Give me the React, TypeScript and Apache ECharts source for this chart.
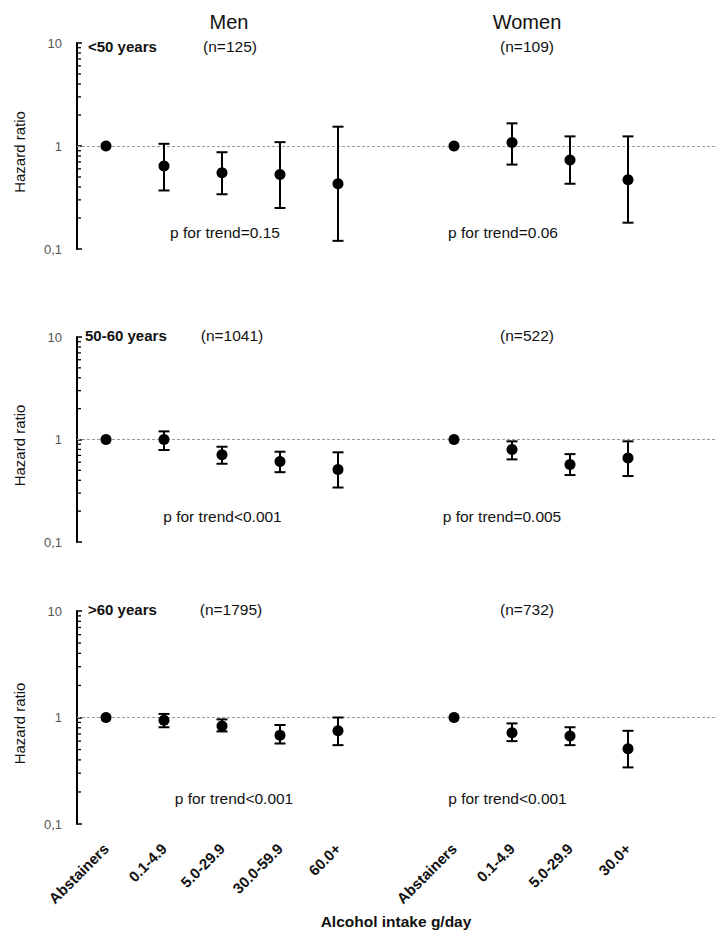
import React, { useEffect, useRef } from "react";
import * as echarts from "echarts";

// ---- categories / ticks ----
const menCategories = ["Abstainers", "0.1-4.9", "5.0-29.9", "30.0-59.9", "60.0+"];
const womenCategories = ["Abstainers", "0.1-4.9", "5.0-29.9", "30.0+"];
const categories = [...menCategories, "", ...womenCategories, ""];
const womenOffset = menCategories.length + 1;
const minorTickValues = [0.2, 0.3, 0.4, 0.5, 0.6, 0.7, 0.8, 0.9, 2, 3, 4, 5, 6, 7, 8, 9];

// ---- <50 years ----
const menU50HR = [1, 0.64, 0.55, 0.53, 0.43];
const menU50Lo = [null, 0.37, 0.34, 0.25, 0.12];
const menU50Hi = [null, 1.05, 0.87, 1.09, 1.54];
const womenU50HR = [1, 1.08, 0.73, 0.47];
const womenU50Lo = [null, 0.66, 0.43, 0.18];
const womenU50Hi = [null, 1.66, 1.24, 1.24];

// ---- 50-60 years ----
const men5060HR = [1, 1.0, 0.71, 0.61, 0.51];
const men5060Lo = [null, 0.79, 0.58, 0.48, 0.34];
const men5060Hi = [null, 1.2, 0.85, 0.76, 0.75];
const women5060HR = [1, 0.8, 0.57, 0.66];
const women5060Lo = [null, 0.64, 0.45, 0.44];
const women5060Hi = [null, 0.96, 0.72, 0.96];

// ---- >60 years ----
const menO60HR = [1, 0.94, 0.83, 0.68, 0.75];
const menO60Lo = [null, 0.81, 0.74, 0.57, 0.55];
const menO60Hi = [null, 1.08, 0.96, 0.85, 1.0];
const womenO60HR = [1, 0.72, 0.67, 0.51];
const womenO60Lo = [null, 0.6, 0.55, 0.34];
const womenO60Hi = [null, 0.88, 0.81, 0.75];

const panelLabels = ["<50 years", "50-60 years", ">60 years"];
const menN = ["(n=125)", "(n=1041)", "(n=1795)"];
const womenN = ["(n=109)", "(n=522)", "(n=732)"];
const menP = ["p for trend=0.15", "p for trend<0.001", "p for trend<0.001"];
const womenP = ["p for trend=0.06", "p for trend=0.005", "p for trend<0.001"];

const FONT = "'Liberation Sans', Arial, sans-serif";

const panels = [
  { men: [menU50HR, menU50Lo, menU50Hi], women: [womenU50HR, womenU50Lo, womenU50Hi] },
  { men: [men5060HR, men5060Lo, men5060Hi], women: [women5060HR, women5060Lo, women5060Hi] },
  { men: [menO60HR, menO60Lo, menO60Hi], women: [womenO60HR, womenO60Lo, womenO60Hi] },
];

const gridTops = [43, 337, 611];
const gridHeights = [206, 205, 213];
const GRID_LEFT = 77;
const SLOT = 58;

function errorBarRender(params: any, api: any) {
  const x = api.value(0);
  const lo = api.coord([x, api.value(1)]);
  const hi = api.coord([x, api.value(2)]);
  const w = 5.5;
  const style = { stroke: "#000", lineWidth: 2 };
  return {
    type: "group",
    children: [
      { type: "line", shape: { x1: lo[0], y1: lo[1], x2: hi[0], y2: hi[1] }, style },
      { type: "line", shape: { x1: lo[0] - w, y1: lo[1], x2: lo[0] + w, y2: lo[1] }, style },
      { type: "line", shape: { x1: hi[0] - w, y1: hi[1], x2: hi[0] + w, y2: hi[1] }, style },
    ],
  };
}

function minorTickRender(params: any, api: any) {
  const p = api.coord([api.value(0), api.value(1)]);
  const half = api.size([1, 0])[0] / 2;
  const x0 = p[0] - half;
  return {
    type: "group",
    children: [
      {
        type: "line",
        shape: { x1: x0, y1: p[1], x2: x0 + 4, y2: p[1] },
        style: { stroke: "#000", lineWidth: 1.3 },
      },
    ],
  };
}

function txt(text: string, x: number, y: number, size: number, align: string, weight = "normal", fill = "#111") {
  return {
    type: "text",
    x,
    y,
    style: {
      text,
      fontSize: size,
      fontWeight: weight,
      fontFamily: FONT,
      fill,
      textAlign: align,
      textVerticalAlign: "middle",
      align,
      verticalAlign: "middle",
    },
  };
}

export default function App() {
  const ref = useRef<HTMLDivElement>(null);
  useEffect(() => {
    if (!ref.current) return;
    const chart = echarts.init(ref.current, null, { renderer: "svg" });

    const grids: any[] = [];
    const xAxes: any[] = [];
    const yAxes: any[] = [];
    const series: any[] = [];

    panels.forEach((panel, p) => {
      grids.push({ left: GRID_LEFT, top: gridTops[p], width: SLOT * categories.length, height: gridHeights[p] });
      const last = p === panels.length - 1;
      xAxes.push({
        type: "category",
        gridIndex: p,
        data: categories,
        boundaryGap: true,
        axisLine: { show: false },
        axisTick: { show: false },
        splitLine: { show: false },
        axisLabel: last
          ? { show: true, interval: 0, rotate: 45, margin: 22, fontSize: 15, fontWeight: "bold", color: "#111", fontFamily: FONT }
          : { show: false },
        name: last ? "Alcohol intake g/day" : "",
        nameLocation: "middle",
        nameGap: 89,
        nameTextStyle: { fontSize: 15.5, fontWeight: "bold", color: "#111", fontFamily: FONT },
      });
      yAxes.push({
        type: "log",
        logBase: 10,
        gridIndex: p,
        min: 0.1,
        max: 10,
        name: "Hazard ratio",
        nameLocation: "middle",
        nameGap: 50,
        nameTextStyle: { fontSize: 15, color: "#111", fontFamily: FONT, padding: [0, 12, 0, 0] },
        axisLine: { show: true, lineStyle: { color: "#000", width: 2 } },
        axisTick: { show: true, inside: true, length: 5, lineStyle: { color: "#000", width: 1.5 } },
        splitLine: { show: false },
        axisLabel: {
          margin: 15,
          fontSize: 13,
          color: "#555",
          fontFamily: FONT,
          formatter: (v: number) => (v < 0.5 ? "0,1" : String(Math.round(v))),
        },
      });

      // minor log ticks
      series.push({
        type: "custom",
        xAxisIndex: p,
        yAxisIndex: p,
        data: minorTickValues.map((v) => [0, v]),
        renderItem: minorTickRender,
        encode: { x: 0, y: 1 },
        silent: true,
        clip: false,
        z: 5,
      });

      const groups = [
        { d: panel.men, off: 0 },
        { d: panel.women, off: womenOffset },
      ];
      groups.forEach((g, gi) => {
        const [hr, lo, hi] = g.d as any[];
        series.push({
          type: "custom",
          xAxisIndex: p,
          yAxisIndex: p,
          data: hr
            .map((_: number, i: number) => (lo[i] == null ? null : [i + g.off, lo[i], hi[i]]))
            .filter((d: any) => d),
          renderItem: errorBarRender,
          encode: { x: 0, y: [1, 2] },
          silent: true,
          z: 3,
        });
        const sc: any = {
          type: "scatter",
          xAxisIndex: p,
          yAxisIndex: p,
          symbol: "circle",
          symbolSize: 11,
          itemStyle: { color: "#000", opacity: 1 },
          data: hr.map((v: number, i: number) => [i + g.off, v]),
          silent: true,
          z: 4,
        };
        if (gi === 0) {
          sc.markLine = {
            silent: true,
            symbol: ["none", "none"],
            label: { show: false },
            lineStyle: { type: [3, 2], color: "#999", width: 1 },
            data: [{ yAxis: 1 }],
            z: 1,
          };
        }
        series.push(sc);
      });
    });

    const graphics: any[] = [
      txt("Men", 229, 22, 20, "center"),
      txt("Women", 527, 22, 20, "center"),
    ];
    const labelY = [46.5, 335.5, 609.5];
    const labelX = [88, 85, 88];
    const menNX = [230, 232, 231];
    const pY = [232, 516, 798];
    const menPX = [225, 222.5, 234];
    const womenPX = [503, 502, 507.5];
    panelLabels.forEach((lab, p) => {
      graphics.push(txt(lab, labelX[p], labelY[p], 15, "left", "bold"));
      graphics.push(txt(menN[p], menNX[p], labelY[p], 15.5, "center"));
      graphics.push(txt(womenN[p], 527, labelY[p], 15.5, "center"));
      graphics.push(txt(menP[p], menPX[p], pY[p], 15.5, "center"));
      graphics.push(txt(womenP[p], womenPX[p], pY[p], 15.5, "center"));
    });

    chart.setOption({
      animation: false,
      backgroundColor: "#fff",
      textStyle: { fontFamily: FONT },
      grid: grids,
      xAxis: xAxes,
      yAxis: yAxes,
      series,
      graphic: graphics,
    });
    return () => chart.dispose();
  }, []);
  return (
    <div
      ref={ref}
      style={{ position: "fixed", left: 0, top: 0, width: 724, height: 941, background: "#fff" }}
    />
  );
}
